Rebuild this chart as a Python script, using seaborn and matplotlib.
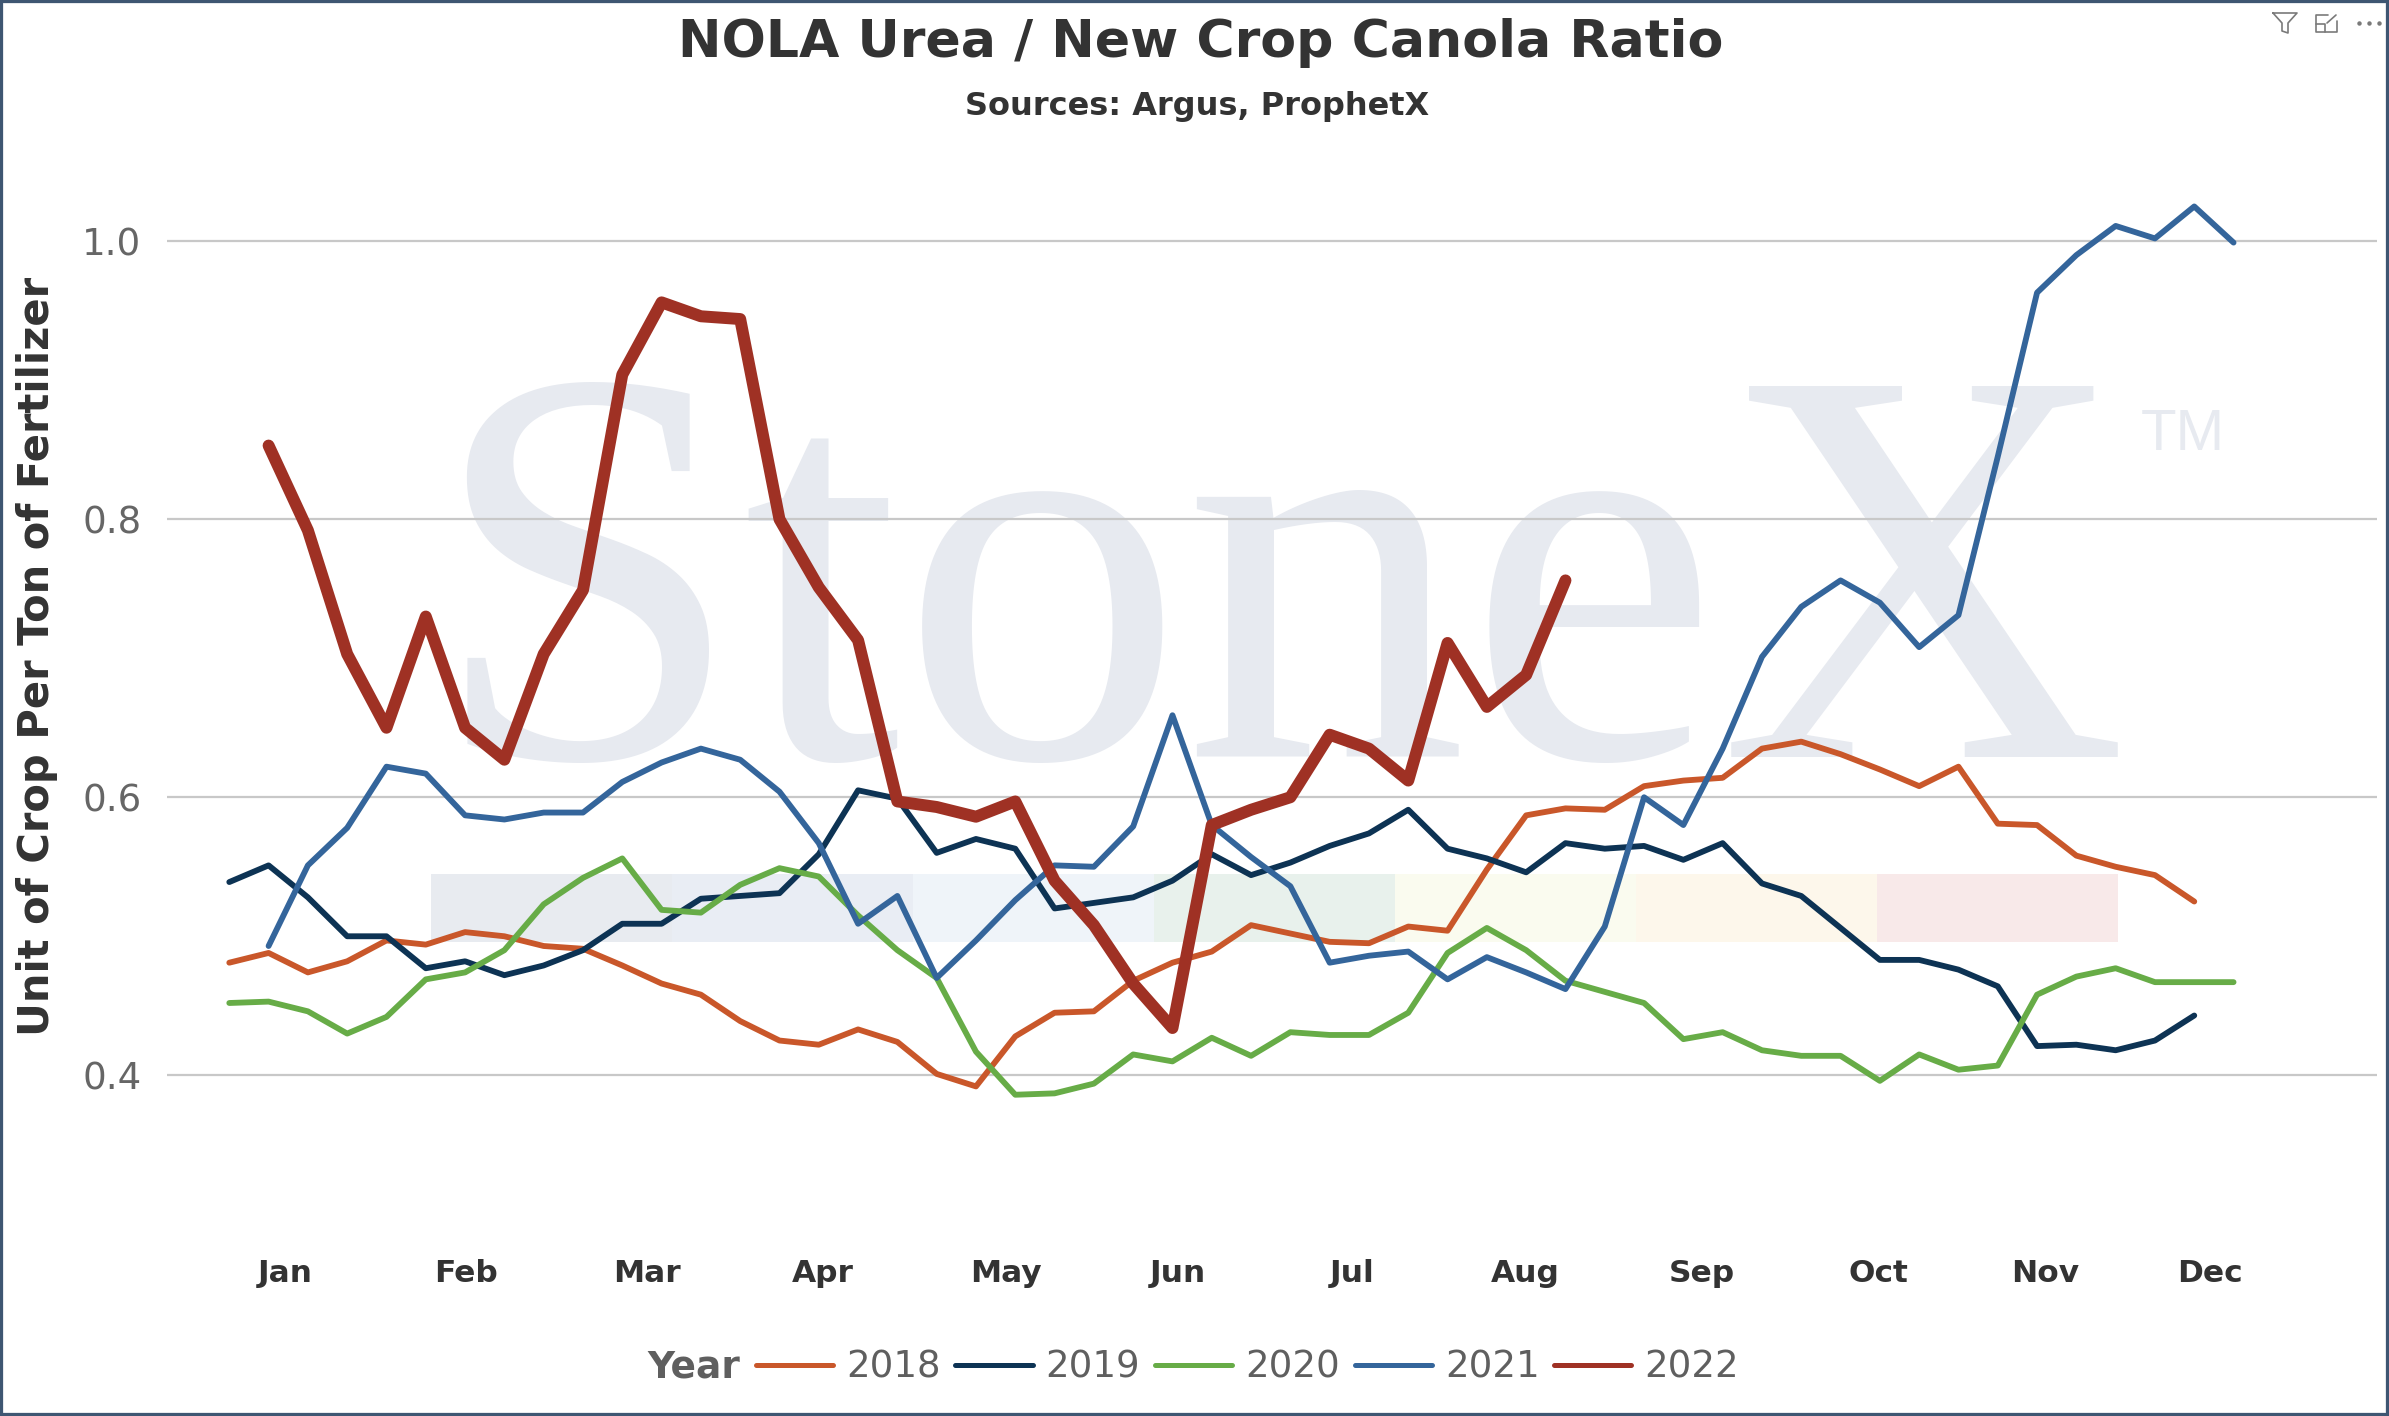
import numpy as np
import pandas as pd
import matplotlib
matplotlib.use("Agg")
import matplotlib.pyplot as plt
import seaborn as sns
from matplotlib.lines import Line2D
from matplotlib.patches import Rectangle

# NOLA Urea / New Crop Canola Ratio, weekly (week of year on x)
years = ["2018", "2019", "2020", "2021", "2022"]
first_week = {"2018": 1, "2019": 1, "2020": 1, "2021": 2, "2022": 2}

ratio_2018 = [0.481, 0.488, 0.474, 0.482, 0.497, 0.494, 0.503, 0.500, 0.493, 0.491,
              0.479, 0.466, 0.458, 0.439, 0.425, 0.422, 0.433, 0.424, 0.401, 0.392,
              0.428, 0.445, 0.446, 0.468, 0.481, 0.489, 0.508, 0.502, 0.496, 0.495,
              0.507, 0.504, 0.548, 0.587, 0.592, 0.591, 0.608, 0.612, 0.614, 0.635,
              0.640, 0.631, 0.620, 0.608, 0.622, 0.581, 0.580, 0.558, 0.550, 0.544,
              0.525]
ratio_2019 = [0.539, 0.551, 0.528, 0.500, 0.500, 0.477, 0.482, 0.472, 0.479, 0.490,
              0.509, 0.509, 0.527, 0.529, 0.531, 0.559, 0.605, 0.599, 0.560, 0.570,
              0.563, 0.520, 0.524, 0.528, 0.540, 0.559, 0.544, 0.553, 0.565, 0.574,
              0.591, 0.563, 0.556, 0.546, 0.567, 0.563, 0.565, 0.555, 0.567, 0.538,
              0.529, 0.506, 0.483, 0.483, 0.476, 0.464, 0.421, 0.422, 0.418, 0.425,
              0.443]
ratio_2020 = [0.452, 0.453, 0.446, 0.430, 0.442, 0.469, 0.474, 0.490, 0.523, 0.542,
              0.556, 0.519, 0.517, 0.537, 0.549, 0.543, 0.515, 0.490, 0.470, 0.417,
              0.386, 0.387, 0.394, 0.415, 0.410, 0.427, 0.414, 0.431, 0.429, 0.429,
              0.445, 0.488, 0.506, 0.490, 0.468, 0.460, 0.452, 0.426, 0.431, 0.418,
              0.414, 0.414, 0.396, 0.415, 0.404, 0.407, 0.458, 0.471, 0.477, 0.467,
              0.467, 0.467]
ratio_2021 = [0.493, 0.551, 0.578, 0.622, 0.617, 0.587, 0.584, 0.589, 0.589, 0.611,
              0.625, 0.635, 0.627, 0.604, 0.567, 0.509, 0.529, 0.470, 0.497, 0.526,
              0.551, 0.550, 0.579, 0.659, 0.580, 0.557, 0.536, 0.481, 0.486, 0.489,
              0.469, 0.485, 0.474, 0.462, 0.507, 0.600, 0.580, 0.635, 0.701, 0.737,
              0.756, 0.740, 0.708, 0.731, 0.845, 0.963, 0.990, 1.011, 1.002, 1.025,
              0.999]
ratio_2022 = [0.853, 0.792, 0.703, 0.650, 0.730, 0.650, 0.627, 0.703, 0.749, 0.904,
              0.956, 0.946, 0.944, 0.800, 0.751, 0.713, 0.597, 0.593, 0.586, 0.597,
              0.540, 0.508, 0.466, 0.434, 0.580, 0.591, 0.600, 0.645, 0.635, 0.612,
              0.711, 0.665, 0.688, 0.756]

months = ["Jan", "Feb", "Mar", "Apr", "May", "Jun", "Jul", "Aug", "Sep", "Oct", "Nov", "Dec"]
month_pos = [2.42, 7.03, 11.62, 16.09, 20.76, 25.14, 29.56, 33.98, 38.46, 42.97, 47.2, 51.4]
y_ticks = [0.4, 0.6, 0.8, 1.0]

series = {"2018": ratio_2018, "2019": ratio_2019, "2020": ratio_2020,
          "2021": ratio_2021, "2022": ratio_2022}
rows = []
for yr in years:
    for i, v in enumerate(series[yr]):
        rows.append({"week": first_week[yr] + i, "ratio": v, "Year": yr})
df = pd.DataFrame(rows)

colors = {"2018": "#C9572A", "2019": "#0D3354", "2020": "#67AC47",
          "2021": "#34659B", "2022": "#9F3124"}
widths = {"2018": 4.2, "2019": 4.2, "2020": 4.2, "2021": 4.2, "2022": 8.6}

sns.set_style("white")
plt.rcParams["font.family"] = ["DejaVu Sans"]

W, H = 2389, 1416
fx = lambda x: x / W
fy = lambda y: 1 - y / H

fig = plt.figure(figsize=(W / 100, H / 100), dpi=100)
fig.patch.set_facecolor("white")
ax = fig.add_axes([fx(167), fy(1214.3), (2377 - 167) / W, (1214.3 - 171.7) / H])
ax.set_facecolor("none")

# watermark (StoneX logo with colour band)
ax.text(fx(428), fy(757), "StoneX", transform=fig.transFigure, family="Liberation Serif",
        fontsize=408, color="#E7EAF0", ha="left", va="baseline", zorder=0.1)
ax.text(fx(2141), fy(450), "TM", transform=fig.transFigure, family="Liberation Sans",
        fontsize=42, color="#E7EAF0", ha="left", va="baseline", zorder=0.1)
band_colors = ["#E8EBF0", "#E9EDF4", "#EFF4F9", "#E8F1EC", "#FAFBEF", "#FDF7EB", "#F8E9E9"]
for i, c in enumerate(band_colors):
    ax.add_patch(Rectangle((fx(431 + i * 241), fy(942)), 241 / W, 68 / H,
                           transform=fig.transFigure, facecolor=c, edgecolor="none",
                           zorder=0.2))

sns.lineplot(data=df, x="week", y="ratio", hue="Year", size="Year",
             palette=colors, sizes=widths, hue_order=years, size_order=years,
             estimator=None, legend=False, ax=ax,
             solid_capstyle="round", solid_joinstyle="round", zorder=3)

ax.set_xlim(-0.585, 55.65)
ax.set_ylim(0.30, 1.05)
ax.set_axisbelow(True)
ax.yaxis.grid(True, color="#C8C8C8", lw=1.6)
ax.xaxis.grid(False)
for s in ax.spines.values():
    s.set_visible(False)

ax.set_yticks(y_ticks)
ax.set_yticklabels(["{:.1f}".format(v) for v in y_ticks])
ax.tick_params(axis="y", length=0, pad=18.5, labelsize=26.7, labelcolor="#666666")
ax.set_xticks(month_pos)
ax.set_xticklabels(months, fontweight="bold")
ax.tick_params(axis="x", length=0, pad=32, labelsize=22.5, labelcolor="#333333")
ax.set_xlabel("")
ax.set_ylabel("")

fig.text(fx(1201), fy(57.3), "NOLA Urea / New Crop Canola Ratio", ha="center",
         va="baseline", fontsize=37.5, fontweight="bold", color="#333333")
fig.text(fx(1197), fy(115), "Sources: Argus, ProphetX", ha="center", va="baseline",
         fontsize=23, fontweight="bold", color="#333333")
fig.text(fx(37), fy(656), "Unit of Crop Per Ton of Fertilizer", rotation=90,
         ha="center", va="center", fontsize=30, fontweight="bold", color="#333333")

# legend
handles = [Line2D([0], [0], color=colors[y], lw=3.6) for y in years]
fig.legend(handles, years, loc="center", bbox_to_anchor=(fx(1247.5), fy(1367)),
           ncol=5, frameon=False, fontsize=26.7, handlelength=2.08,
           handletextpad=0.35, columnspacing=0.4, borderpad=0, labelcolor="#5F5F5F")
fig.text(fx(740), fy(1367), "Year", ha="right", va="center", fontsize=27,
         fontweight="bold", color="#5F5F5F")

# visual header icons
icon = "#7A7A7A"
fig.add_artist(Line2D([fx(2273), fx(2297), fx(2288), fx(2288), fx(2282), fx(2282), fx(2273)],
                      [fy(13), fy(13), fy(23), fy(33), fy(31), fy(23), fy(13)],
                      color=icon, lw=1.2))
fig.add_artist(Line2D([fx(2328), fx(2316), fx(2316), fx(2337), fx(2337)],
                      [fy(15), fy(15), fy(32), fy(32), fy(21)], color=icon, lw=1.2))
fig.add_artist(Line2D([fx(2316), fx(2325), fx(2325)], [fy(24), fy(24), fy(32)],
                      color=icon, lw=1.2))
fig.add_artist(Line2D([fx(2327), fx(2336)], [fy(23), fy(15)], color=icon, lw=1.2))
fig.add_artist(Line2D([fx(2359), fx(2369), fx(2379)], [fy(23)] * 3, color=icon,
                      lw=0, marker="o", markersize=2.2))

# outer frame
fig.add_artist(Rectangle((0, 0), 1, 1, transform=fig.transFigure, fill=False,
                         edgecolor="#3E5672", lw=4.5, zorder=10))

fig.savefig("out.png", dpi=100, facecolor="white")
